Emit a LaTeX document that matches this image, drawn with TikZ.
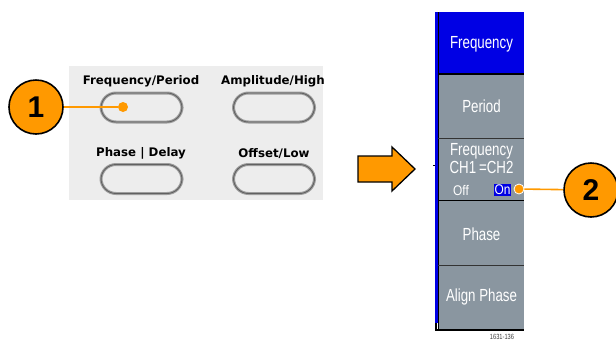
\documentclass[tikz,border=0pt]{standalone}
\usepackage{fontspec}
\setmainfont{Liberation Sans}
\newfontfamily\labelfont{DejaVu Sans}
\newfontfamily\menufont[FakeStretch=0.76]{Liberation Sans}
\newfontfamily\onofffont[FakeStretch=0.85]{Liberation Sans}
\definecolor{orng}{RGB}{255,153,0}
\definecolor{panelgray}{RGB}{237,237,237}
\definecolor{menugray}{RGB}{138,150,160}
\definecolor{menublue}{RGB}{0,0,228}
\begin{document}
\begin{tikzpicture}[x=1pt,y=-1pt,
  callout/.style={circle, draw=black, line width=1.6pt, fill=orng, minimum size=54pt, inner sep=0pt,
    font=\bfseries\fontsize{30}{30}\selectfont},
  dotmark/.style={circle, fill=orng, draw=white, line width=0.8pt, minimum size=10pt, inner sep=0pt},
  leader/.style={orng, line width=1.6pt},
  button/.style={rectangle, rounded corners=15pt, minimum width=81pt, minimum height=29pt,
    draw=black!38, line width=3pt, fill=panelgray, inner sep=0pt,
    postaction={draw=black!62, line width=0.9pt}},
  btnlabel/.style={font=\labelfont\bfseries\fontsize{11.8}{12}\selectfont, inner sep=0pt},
  menutext/.style={font=\menufont\fontsize{17.5}{18}\selectfont, text=white, inner sep=0pt, align=center},
  smalltext/.style={font=\onofffont\fontsize{14}{14}\selectfont, text=white, inner sep=0pt},
  bigarrow/.style={fill=orng, draw=black, line width=1.3pt, line join=miter}
]
\useasboundingbox (0,0) rectangle (616,341);

% left panel
\fill[panelgray] (69,66) rectangle (323,200);
\node[btnlabel] (fpl) at (141,81) {Frequency/Period};
\node[btnlabel] (ahl) at (273,81) {Amplitude/High};
\node[btnlabel] (pdl) at (141,153) {Phase | Delay};
\node[btnlabel] (oll) at (274,154) {Offset/Low};
\node[button] (fp) at (141.5,107.5) {};
\node[button] (ah) at (274,107.5) {};
\node[button] (pd) at (141.5,179) {};
\node[button] (ol) at (274,179) {};

% callout 1
\node[callout] (c1) at (36,107) {1};
\node[dotmark, draw=none] (d1) at (123,107) {};
\draw[leader] (c1) -- (d1);

% big arrow
\draw[bigarrow] (358,156) -- (392,156) -- (392,147) -- (415,169) -- (392,191) -- (392,182) -- (358,182) -- cycle;

% right menu panel
\fill[menublue] (439,12) rectangle (524,74);
\fill[menugray] (439,74) rectangle (524,329);
\fill[menublue] (435,12) rectangle (438,323);
\fill[black] (438,12) rectangle (439.3,330);
\fill[black] (435,323) rectangle (437,330);
\fill[black] (433,164.5) rectangle (435,165.5);
\fill[black] (438,73) rectangle (524,75);
\fill[black!80] (438,137.5) rectangle (524,138.7);
\fill[black] (438,199.5) rectangle (524,201.3);
\fill[black!80] (438,264.5) rectangle (524,265.7);
\fill[black] (435,328.5) rectangle (524,330.5);

\node[menutext] (m1) at (481.5,44) {Frequency};
\node[menutext] (m2) at (481.5,106) {Period};
\node[menutext] (m3) at (481.5,159) {Frequency\\CH1\,=CH2};
\node[smalltext] (off) at (461,190.5) {Off};
\node[smalltext, fill=menublue, minimum width=17pt, minimum height=12.5pt] (on) at (502.5,190) {On};
\node[menutext] (m4) at (481.5,234) {Phase};
\node[menutext] (m5) at (481.5,297) {Align Phase};
\node[font=\menufont\fontsize{7.5}{8}\selectfont, text=black!75, inner sep=0pt] (fig) at (502,337) {1631-136};

% callout 2
\node[callout] (c2) at (591,190) {2};
\node[dotmark] (d2) at (519,189) {};
\draw[leader] (d2) -- (c2);
\end{tikzpicture}
\end{document}
